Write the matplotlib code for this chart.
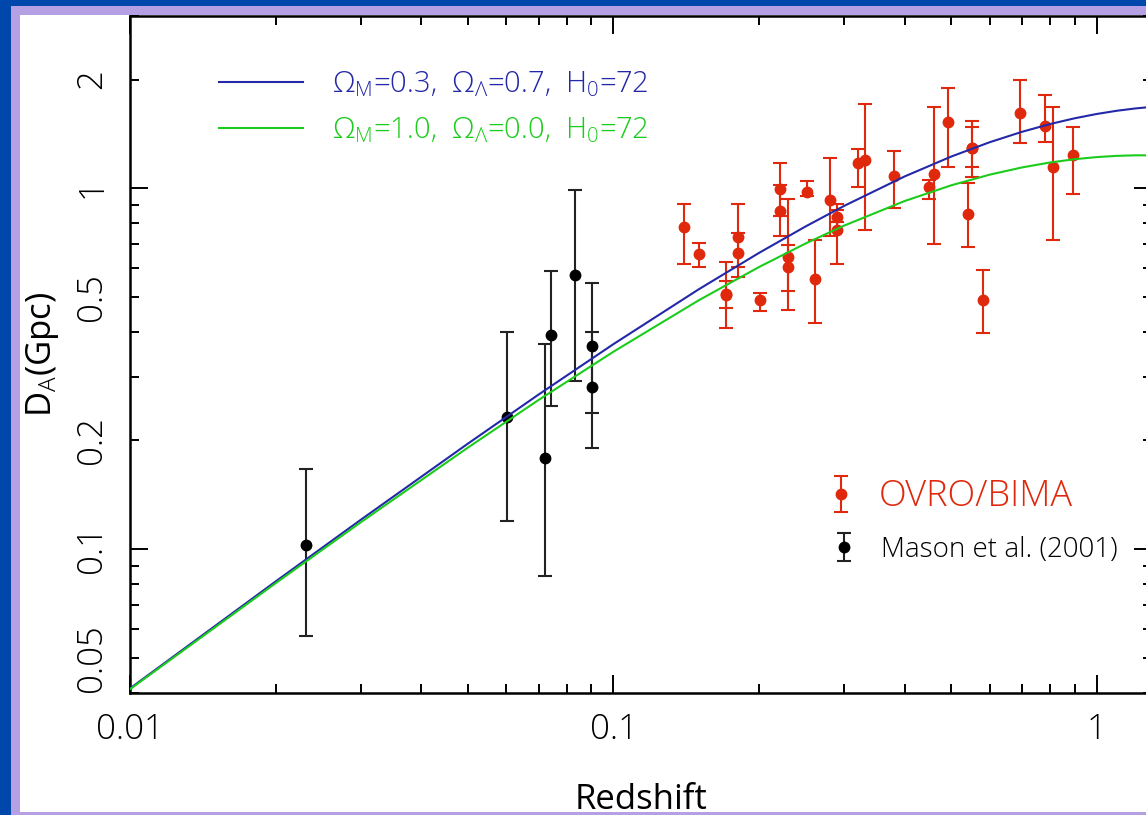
import matplotlib
matplotlib.use("Agg")
import numpy as np
import matplotlib.pyplot as plt
from matplotlib.ticker import LogLocator, FuncFormatter, NullFormatter
from matplotlib.patches import Rectangle

plt.rcParams["font.family"] = ["Open Sans", "DejaVu Sans"]
plt.rcParams["font.weight"] = "light"
plt.rcParams["mathtext.fontset"] = "custom"
plt.rcParams["mathtext.rm"] = "Open Sans:light"
plt.rcParams["mathtext.it"] = "Open Sans:light"
plt.rcParams["mathtext.bf"] = "Open Sans"

# ---- OVRO/BIMA clusters: redshift, D_A (Gpc), lower / upper error bounds
ovro_z = [0.140, 0.150, 0.181, 0.181, 0.171, 0.171, 0.201, 0.221, 0.221, 0.230,
          0.230, 0.251, 0.261, 0.281, 0.290, 0.290, 0.320, 0.331, 0.381, 0.450,
          0.460, 0.491, 0.552, 0.552, 0.540, 0.580, 0.693, 0.782, 0.810, 0.892]
ovro_da = [0.781, 0.659, 0.733, 0.662, 0.505, 0.509, 0.490, 0.992, 0.864, 0.645,
           0.605, 0.977, 0.560, 0.926, 0.833, 0.765, 1.171, 1.196, 1.080, 1.005,
           1.093, 1.527, 1.293, 1.293, 0.846, 0.490, 1.617, 1.485, 1.146, 1.234]
ovro_lo = [0.616, 0.603, 0.605, 0.566, 0.411, 0.467, 0.456, 0.837, 0.736, 0.461,
           0.519, 0.950, 0.424, 0.736, 0.805, 0.616, 1.005, 0.768, 0.882, 0.936,
           0.700, 1.146, 1.075, 1.146, 0.688, 0.396, 1.330, 1.344, 0.718, 0.961]
ovro_hi = [0.903, 0.706, 0.903, 0.752, 0.625, 0.553, 0.513, 1.175, 1.019, 0.936,
           0.695, 1.048, 0.718, 1.209, 0.869, 0.903, 1.280, 1.709, 1.269, 1.052,
           1.680, 1.892, 1.536, 1.478, 1.034, 0.595, 1.991, 1.810, 1.680, 1.478]

# ---- Mason et al. (2001) low-redshift clusters
mason_z = [0.0231, 0.0602, 0.0722, 0.0742, 0.0833, 0.0902, 0.0902]
mason_da = [0.1026, 0.2325, 0.1783, 0.3916, 0.574, 0.365, 0.2816]
mason_lo = [0.0574, 0.1198, 0.0842, 0.249, 0.292, 0.2377, 0.1907]
mason_hi = [0.1667, 0.400, 0.371, 0.589, 0.987, 0.545, 0.399]

# ---- Model angular-diameter distance curves (Gpc)
model_z = [0.01, 0.02, 0.03, 0.05, 0.07, 0.1, 0.15, 0.2, 0.25, 0.3, 0.4, 0.5,
           0.6, 0.7, 0.8, 0.9, 1.0, 1.1, 1.2, 1.3, 1.4]
da_lcdm = [0.0411, 0.0813, 0.1205, 0.1960, 0.2680, 0.3698, 0.5243, 0.6617,
           0.7841, 0.8932, 1.0775, 1.2241, 1.3407, 1.4330, 1.5057, 1.5624,
           1.6060, 1.6390, 1.6631, 1.6801, 1.6910]
da_eds = [0.0409, 0.0804, 0.1186, 0.1911, 0.2589, 0.3523, 0.4888, 0.6047,
          0.7033, 0.7876, 0.9211, 1.0188, 1.0901, 1.1416, 1.1782, 1.2032,
          1.2196, 1.2291, 1.2333, 1.2333, 1.2301]

label_lcdm = r"$\Omega_{\mathrm{M}}$=0.3,  $\Omega_{\Lambda}$=0.7,  H$_{0}$=72"
label_eds = r"$\Omega_{\mathrm{M}}$=1.0,  $\Omega_{\Lambda}$=0.0,  H$_{0}$=72"

x_ticklabels = {0.01: "0.01", 0.1: "0.1", 1.0: "1"}
y_ticklabels = {0.05: "0.05", 0.1: "0.1", 0.2: "0.2", 0.5: "0.5", 1.0: "1", 2.0: "2"}

RED = "#e0280c"
BLUE = "#2328a8"
GREEN = "#1ccc1c"
FRAME_BLUE = "#0047ab"
FRAME_LAV = "#b6a0e4"

W, H = 1146, 815
fig = plt.figure(figsize=(W / 100, H / 100), dpi=100)
fig.patch.set_facecolor("white")


# slide frame: dark blue outer band, lavender inner band
def px_rect(x0, y0, x1, y1, color):
    fig.patches.append(Rectangle((x0 / W, 1 - y1 / H), (x1 - x0) / W, (y1 - y0) / H,
                                 transform=fig.transFigure, color=color, zorder=0,
                                 linewidth=0))


px_rect(0, 0, 11, H, FRAME_BLUE)
px_rect(0, 0, W, 6, FRAME_BLUE)
px_rect(11, 6, 20, H, FRAME_LAV)
px_rect(11, 6, W, 15, FRAME_LAV)
px_rect(11, 812, W, H, FRAME_LAV)

ax_l, ax_r, ax_t, ax_b = 130, 1152, 16, 692.7
ax = fig.add_axes([ax_l / W, 1 - ax_b / H, (ax_r - ax_l) / W, (ax_b - ax_t) / H])
ax.set_xscale("log")
ax.set_yscale("log")
ax.set_xlim(0.01, 1.30)
ax.set_ylim(0.04, 3.0)

z_o = np.array(ovro_z)
d_o = np.array(ovro_da)
err_o = [d_o - np.array(ovro_lo), np.array(ovro_hi) - d_o]
z_m = np.array(mason_z)
d_m = np.array(mason_da)
err_m = [d_m - np.array(mason_lo), np.array(mason_hi) - d_m]

eb_o = ax.errorbar(z_o, d_o, yerr=err_o, fmt="o", color=RED, ecolor=RED,
                   markersize=7.5, elinewidth=1.5, capsize=5, capthick=1.5, zorder=3)
eb_m = ax.errorbar(z_m, d_m, yerr=err_m, fmt="o", color="black", ecolor="#222222",
                   markersize=7.5, elinewidth=1.5, capsize=5, capthick=1.5, zorder=3)

ln1, = ax.plot(model_z, da_lcdm, color=BLUE, lw=1.5, zorder=4)
ln2, = ax.plot(model_z, da_eds, color=GREEN, lw=1.5, zorder=4)

# axis styling
for sp in ax.spines.values():
    sp.set_linewidth(1.8)
ax.tick_params(which="both", direction="in", top=True, right=True, width=1.4,
               colors="black", labelsize=25)
ax.tick_params(which="major", length=13)
ax.tick_params(which="minor", length=6.5)
ax.tick_params(axis="x", which="both", pad=14)
ax.tick_params(axis="y", which="both", pad=15, labelrotation=90)

ax.xaxis.set_major_locator(LogLocator(base=10, numticks=10))
ax.xaxis.set_minor_locator(LogLocator(base=10, subs=np.arange(2, 10), numticks=20))
ax.yaxis.set_major_locator(LogLocator(base=10, numticks=10))
ax.yaxis.set_minor_locator(LogLocator(base=10, subs=np.arange(2, 10), numticks=20))


def fmt_from(table):
    def f(v, pos):
        for k, s in table.items():
            if abs(np.log10(v) - np.log10(k)) < 1e-3:
                return s
        return ""
    return f


ax.xaxis.set_major_formatter(FuncFormatter(fmt_from(x_ticklabels)))
ax.xaxis.set_minor_formatter(NullFormatter())
ax.yaxis.set_major_formatter(FuncFormatter(fmt_from(y_ticklabels)))
ax.yaxis.set_minor_formatter(FuncFormatter(fmt_from(y_ticklabels)))
for lab in ax.get_yticklabels(which="both"):
    lab.set_verticalalignment("center")

ax.set_xlabel("Redshift", fontsize=25)
ax.xaxis.set_label_coords(0.5, -0.133)
ax.set_ylabel(r"D$_{\mathrm{A}}$(Gpc)", fontsize=25)
ax.yaxis.set_label_coords(-0.068, 0.5)

# model legend (top left)
leg_lines = ax.legend([ln1, ln2], [label_lcdm, label_eds],
                      loc="upper left",
                      bbox_to_anchor=((207 - ax_l) / (ax_r - ax_l), 1 - (58 - ax_t) / (ax_b - ax_t)),
                      frameon=False, fontsize=21, handlelength=2.9, handletextpad=1.0,
                      labelspacing=0.54, labelcolor="linecolor", borderaxespad=0)
for h in leg_lines.legend_handles:
    h.set_linewidth(1.5)
ax.add_artist(leg_lines)

# data-set legends (lower right)
leg_o = ax.legend([eb_o], ["OVRO/BIMA"], loc="center left",
                  bbox_to_anchor=((825 - ax_l) / (ax_r - ax_l), 1 - (497 - ax_t) / (ax_b - ax_t)),
                  frameon=False, fontsize=26, handlelength=0.9, handletextpad=0.6,
                  labelcolor=RED, borderaxespad=0, borderpad=0)
ax.add_artist(leg_o)
leg_m = ax.legend([eb_m], ["Mason et al. (2001)"], loc="center left",
                  bbox_to_anchor=((827 - ax_l) / (ax_r - ax_l), 1 - (550 - ax_t) / (ax_b - ax_t)),
                  frameon=False, fontsize=20, handlelength=1.2, handletextpad=0.75,
                  labelcolor="black", borderaxespad=0, borderpad=0)

fig.savefig("out.png", dpi=100, facecolor=fig.get_facecolor())
